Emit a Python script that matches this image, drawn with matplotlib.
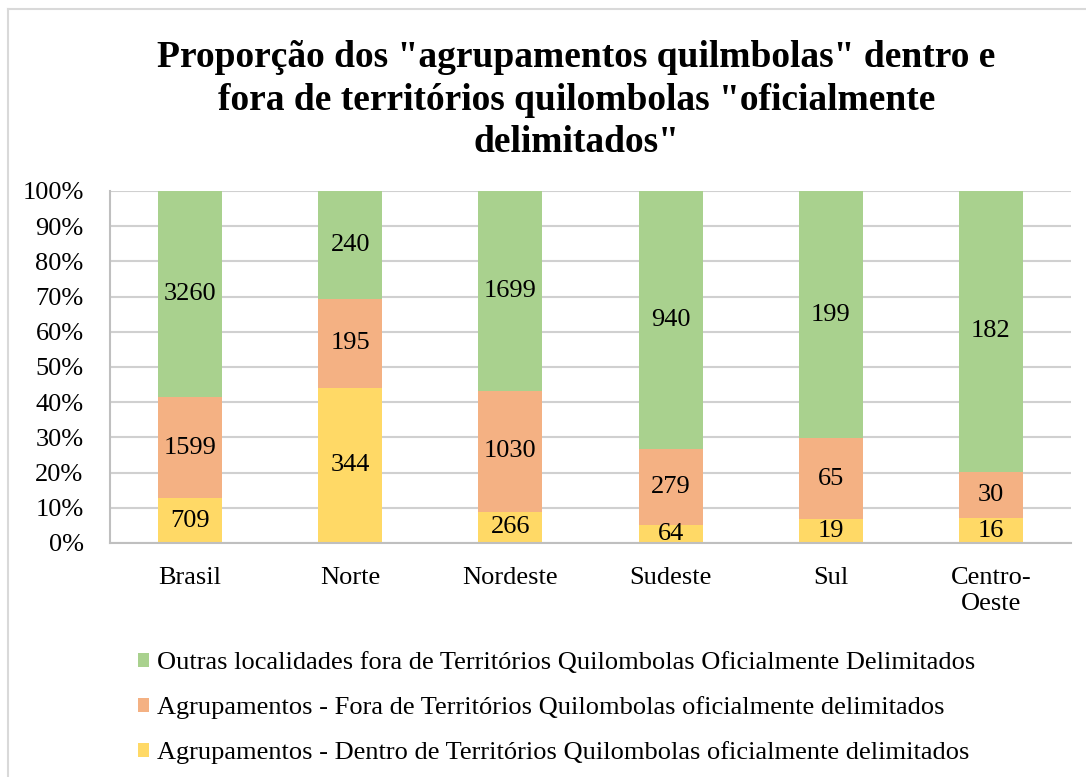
import numpy
from matplotlib import pyplot
from matplotlib.lines import Line2D

pyplot.rcParams['font.family'] = ['Liberation Serif', 'DejaVu Serif']

regioes = ['Brasil', 'Norte', 'Nordeste', 'Sudeste', 'Sul', 'Centro-\nOeste']
dentro = [709, 344, 266, 64, 19, 16]
fora = [1599, 195, 1030, 279, 65, 30]
outras = [3260, 240, 1699, 940, 199, 182]

series = [
    ('Agrupamentos - Dentro de Territórios Quilombolas oficialmente delimitados', dentro, '#FFD966'),
    ('Agrupamentos - Fora de Territórios Quilombolas oficialmente delimitados', fora, '#F4B183'),
    ('Outras localidades fora de Territórios Quilombolas Oficialmente Delimitados', outras, '#A9D18E'),
]

total = numpy.array(dentro) + numpy.array(fora) + numpy.array(outras)
x = numpy.arange(len(regioes))
fs = 19

fig = pyplot.figure(figsize=(10.86, 7.77), dpi=100)
ax = fig.add_axes([0.1013, 0.3012, 0.8849, 0.4530])

base = numpy.zeros(len(regioes))
handles = []
for nome, valores, cor in series:
    frac = numpy.array(valores) / total * 100
    bars = ax.bar(x, frac, bottom=base, width=0.4, color=cor, label=nome, zorder=3)
    for xi, b, f, v in zip(x, base, frac, valores):
        ax.text(xi, b + f / 2, str(v), ha='center', va='center', fontsize=fs, zorder=4)
    base = base + frac
    handles.append(bars)

ax.set_xlim(-0.5, len(regioes) - 0.5)
ax.set_ylim(0, 100)
ax.set_yticks(numpy.arange(0, 101, 10))
ax.set_yticklabels([f'{v}%' for v in range(0, 101, 10)])
ax.set_xticks(x)
ax.set_xticklabels(regioes, linespacing=1.25)
ax.tick_params(axis='y', length=0, pad=19, labelsize=fs)
ax.tick_params(axis='x', length=0, pad=17, labelsize=fs)
ax.grid(axis='y', color='#D0D0D0', linewidth=1.5, zorder=0)
for s in ['top', 'right']:
    ax.spines[s].set_visible(False)
for s in ['left', 'bottom']:
    ax.spines[s].set_color('#BFBFBF')
    ax.spines[s].set_linewidth(1.5)
    ax.spines[s].set_zorder(5)

fig.text(0.531, 0.871, 'Proporção dos "agrupamentos quilmbolas" dentro e\n'
         'fora de territórios quilombolas "oficialmente\ndelimitados"',
         ha='center', va='center', fontsize=27, fontweight='bold', linespacing=1.28)

fig.legend(handles[::-1], [s[0] for s in series][::-1], loc='upper left',
           bbox_to_anchor=(0.117, 0.174), bbox_transform=fig.transFigure,
           frameon=False, fontsize=fs, handlelength=0.45, handleheight=0.45,
           handletextpad=0.3, labelspacing=0.83, borderaxespad=0)

# chart border
fig.add_artist(Line2D([8 / 1086, 8 / 1086], [0, 1 - 9 / 777], color='#D9D9D9', linewidth=1.5))
fig.add_artist(Line2D([8 / 1086, 1], [1 - 9 / 777, 1 - 9 / 777], color='#D9D9D9', linewidth=1.5))

pyplot.savefig('out.png')
